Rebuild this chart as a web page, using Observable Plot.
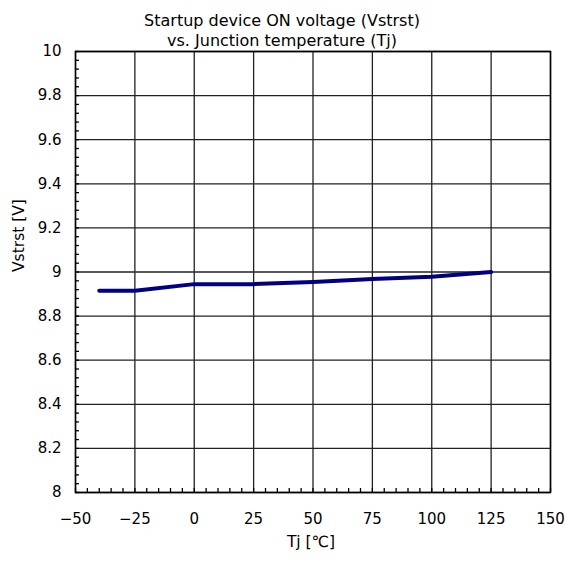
<!DOCTYPE html>
<html>
<head>
<meta charset="utf-8">
<script src="https://cdn.jsdelivr.net/npm/d3@7"></script>
<script src="https://cdn.jsdelivr.net/npm/@observablehq/plot@0.6"></script>
<style>
body { margin: 0; background: #fff; }
#chart { width: 565px; height: 566px; }
</style>
</head>
<body>
<div id="chart"></div>
<script>
const titleLines = ["Startup device ON voltage (Vstrst)", "vs. Junction temperature (Tj)"];
const xLabel = "Tj [℃]";
const yLabel = "Vstrst [V]";
const temps = [-40, -25, 0, 25, 50, 75, 100, 125];
const volts = [8.915, 8.915, 8.945, 8.945, 8.955, 8.968, 8.978, 9.0];
const xTicks = [-50, -25, 0, 25, 50, 75, 100, 125, 150];
const yTicks = [8, 8.2, 8.4, 8.6, 8.8, 9, 9.2, 9.4, 9.6, 9.8, 10];
const xMinor = d3.range(-50, 150.1, 5);
const yMinor = d3.range(0, 51).map(i => +(8 + i * 0.04).toFixed(2));

const data = temps.map((t, i) => ({t, v: volts[i]}));
const fmtX = d => d < 0 ? "\u2212" + (-d) : String(d);
const fmtY = d => String(d);
const font = "'DejaVu Sans', 'Liberation Sans', sans-serif";

const chart = Plot.plot({
  width: 565,
  height: 566,
  marginTop: 51,
  marginBottom: 74,
  marginLeft: 75,
  marginRight: 15,
  style: {fontFamily: font, fontSize: "15px", color: "#000", background: "#fff"},
  x: {domain: [-50, 150]},
  y: {domain: [8, 10]},
  marks: [
    Plot.gridX(xTicks, {stroke: "#222", strokeOpacity: 1, strokeWidth: 1.3}),
    Plot.gridY(yTicks, {stroke: "#222", strokeOpacity: 1, strokeWidth: 1.3}),
    Plot.axisX(xMinor, {anchor: "bottom", tickSize: 4, dy: -4, text: null, label: null, stroke: "#000", strokeWidth: 1.3}),
    Plot.axisY(yMinor, {anchor: "left", tickSize: 4, dx: 4, text: null, label: null, stroke: "#000", strokeWidth: 1.3}),
    Plot.axisX(xTicks, {anchor: "bottom", tickSize: 0, tickPadding: 21, tickFormat: fmtX, label: null, fontSize: 15}),
    Plot.axisY(yTicks, {anchor: "left", tickSize: 0, tickPadding: 14, tickFormat: fmtY, label: null, fontSize: 15}),
    Plot.frame({stroke: "#000", strokeWidth: 1.5}),
    Plot.line(data, {x: "t", y: "v", stroke: "#000080", strokeWidth: 4}),
    Plot.text([titleLines[0]], {frameAnchor: "top", dx: -31, dy: -37, text: d => d, fontSize: 16}),
    Plot.text([titleLines[1]], {frameAnchor: "top", dx: -31, dy: -17, text: d => d, fontSize: 16}),
    Plot.text([xLabel], {frameAnchor: "bottom", dx: -2, dy: 54, text: d => d, fontSize: 15.5}),
    Plot.text([yLabel], {frameAnchor: "left", dx: -56, rotate: -90, text: d => d, fontSize: 15.5})
  ]
});
document.getElementById("chart").appendChild(chart);
</script>
</body>
</html>
